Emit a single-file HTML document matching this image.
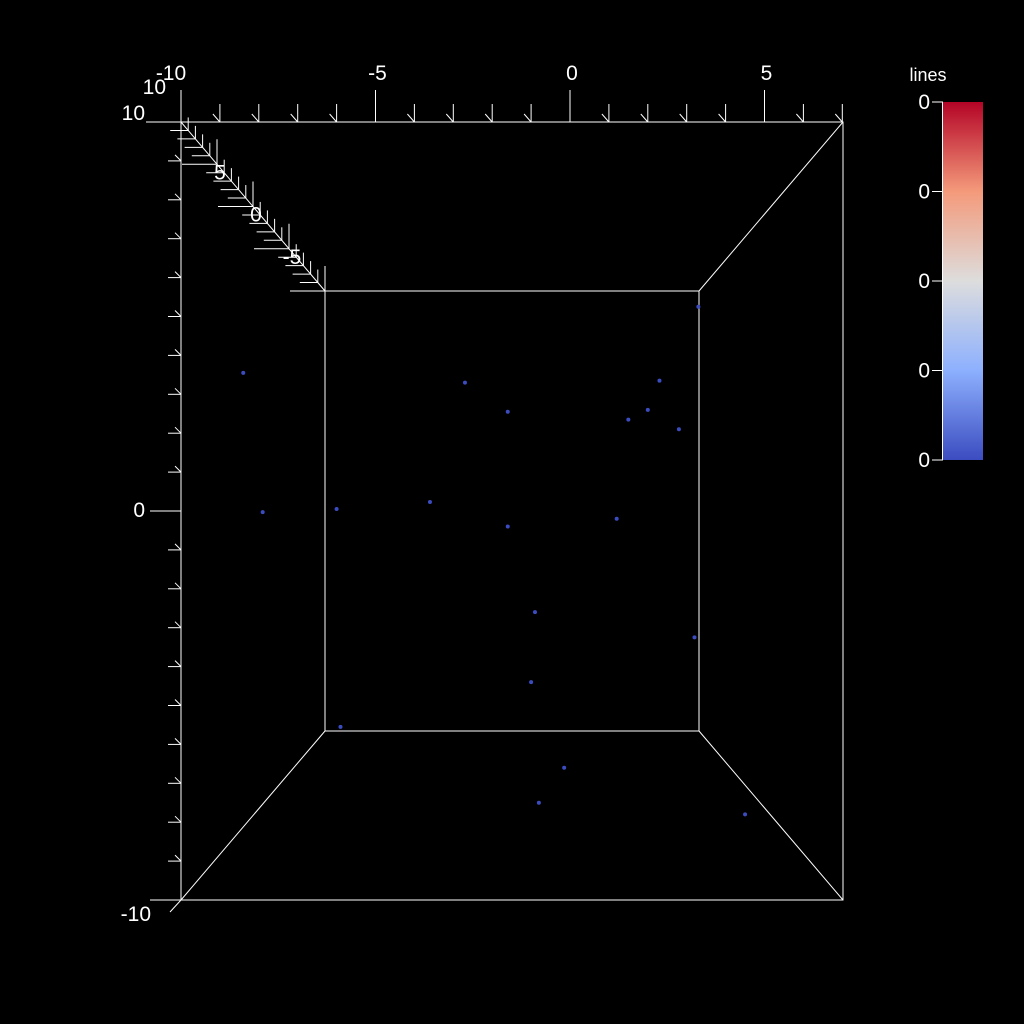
<!DOCTYPE html>
<html><head><meta charset="utf-8"><style>
html,body{margin:0;padding:0;background:#000;}
svg{display:block;font-family:"Liberation Sans",sans-serif;}
</style></head><body>
<svg id="chart" width="1024" height="1024" viewBox="0 0 1024 1024">
<defs>
<linearGradient id="cw" x1="0" y1="1" x2="0" y2="0">
<stop offset="0" stop-color="#3b4cc0"/><stop offset="0.25" stop-color="#8db0fe"/>
<stop offset="0.5" stop-color="#dddddd"/><stop offset="0.75" stop-color="#f49a7b"/>
<stop offset="1" stop-color="#b40426"/></linearGradient>
</defs>
<g id="box" stroke="#fff" stroke-width="1" fill="none">
<rect x="181" y="122" width="662" height="778"/>
<rect x="325" y="291" width="374" height="440"/>
<line x1="699" y1="291" x2="843" y2="122"/>
<line x1="699" y1="731" x2="843" y2="900"/>
<line x1="325" y1="731" x2="181" y2="900"/>
<line x1="150" y1="122" x2="181" y2="122"/>
<line x1="181" y1="90" x2="181" y2="122"/>
<line x1="150" y1="900" x2="181" y2="900"/>
<line x1="150" y1="511" x2="181" y2="511"/>
<line x1="170" y1="912" x2="181" y2="900"/>
</g>
<g id="axes"></g>
<g id="points"></g>
<g>
<rect x="943" y="102" width="40" height="358" fill="url(#cw)"/>
<line x1="942.5" y1="102" x2="942.5" y2="460" stroke="#fff"/>
<text x="928" y="81" fill="#fff" font-size="18" text-anchor="middle">lines</text>
</g>
<g id="cbticks"></g>
</svg>
<script>
const xTicks=[-10,-5,0,5];
const yTicks=[10,0,-10];
const zTicks=[5,0,-5];
const cbLabels=["0","0","0","0","0"];
const px=[-8.4,-2.7,2.3,-1.6,2.0,1.5,2.8,3.3,-7.9,-6.0,-3.6,-1.6,1.2,-0.9,3.2,-1.0,-5.9,-0.15,-0.8,4.5];
const py=[3.55,3.3,3.35,2.55,2.6,2.35,2.1,5.25,-0.03,0.05,0.23,-0.4,-0.2,-2.6,-3.25,-4.4,-5.55,-6.6,-7.5,-7.8];
const NS="http://www.w3.org/2000/svg";
const sx=v=>570+v*38.9, sy=v=>511-v*38.9;
const ax=document.getElementById('axes');
function mk(t,a,p){const e=document.createElementNS(NS,t);for(const k in a)e.setAttribute(k,a[k]);p.appendChild(e);return e;}
for(let v=-10;v<=7;v++){const x=sx(v);const maj=v%5===0;
const l=mk('line',{x1:x,y1:122,x2:x,y2:maj?90:104,stroke:'#fff'},ax);


if(!maj)mk('line',{x1:x,y1:122,x2:x-7,y2:114,stroke:'#fff'},ax);}
xTicks.forEach(v=>{const t=mk('text',{x:sx(v)+(v===-10?-10:2),y:80,fill:'#fff','font-size':21,'text-anchor':'middle'},ax);t.textContent=v;

});
for(let v=-10;v<=10;v++){if(v%10===0)continue;const y=sy(v);
const l=mk('line',{x1:168,y1:y,x2:181,y2:y,stroke:'#fff'},ax);


mk('line',{x1:181,y1:y,x2:175,y2:y-6,stroke:'#fff'},ax);}
yTicks.forEach(v=>{const t=mk('text',{x:v===-10?151:145,y:sy(v)+(v===-10?21:6)+(v===10?-8:0),fill:'#fff','font-size':21,'text-anchor':'end'},ax);t.textContent=v;

});
const t10=mk('text',{x:166,y:94,fill:'#fff','font-size':21,'text-anchor':'end'},ax);t10.textContent='10';
mk('line',{x1:181,y1:122,x2:325,y2:291,stroke:'#fff'},ax);
const sz=v=>(10-v)/20;
for(let v=-10;v<=10;v++){const f=sz(v);const x=181+144*f,y=122+169*f;const maj=v%5===0;
const l=mk('line',{x1:x-(maj?35:18),y1:y,x2:x,y2:y,stroke:'#fff'},ax);


mk('line',{x1:x,y1:y,x2:x,y2:y-(maj?25:13),stroke:'#fff'},ax);}
zTicks.forEach(v=>{const f=sz(v);const t=mk('text',{x:181+144*f+3,y:122+169*f+15,fill:'#fff','font-size':21,'text-anchor':'middle'},ax);t.textContent=v;

});
const pg=document.getElementById('points');
px.forEach((v,i)=>{const c=mk('circle',{cx:sx(v),cy:sy(py[i]),r:2,fill:'#3b4cc0'},pg);

});
const cb=document.getElementById('cbticks');
cbLabels.forEach((s,i)=>{const y=102+i*(358/4);
mk('line',{x1:932,y1:y,x2:943,y2:y,stroke:'#fff'},cb);
const t=mk('text',{x:930,y:y+7,fill:'#fff','font-size':21,'text-anchor':'end'},cb);t.textContent=s;

});
</script>
</body></html>
